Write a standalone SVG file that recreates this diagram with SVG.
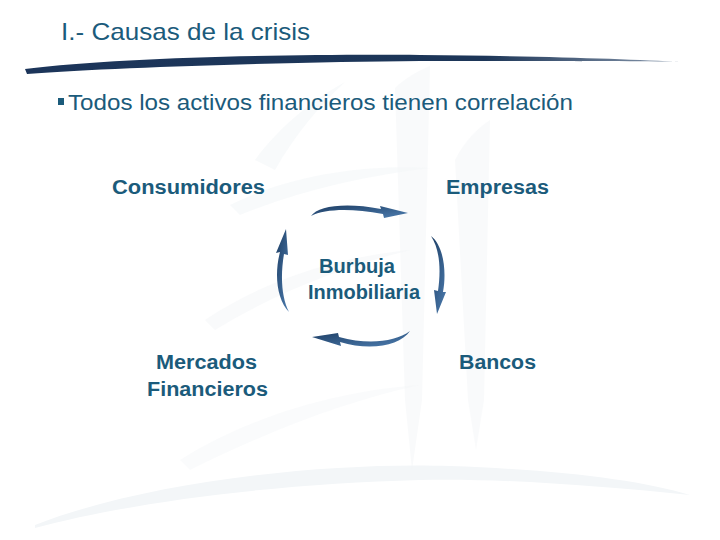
<svg xmlns="http://www.w3.org/2000/svg" width="720" height="540" viewBox="0 0 720 540">
<defs>
<linearGradient id="ag" x1="0" y1="0" x2="1" y2="1">
<stop offset="0" stop-color="#1d3d63"/>
<stop offset="1" stop-color="#4d7db0"/>
</linearGradient>
<linearGradient id="sw" x1="0" y1="0" x2="1" y2="0">
<stop offset="0" stop-color="#1c355a"/>
<stop offset="0.7" stop-color="#1d3658"/>
<stop offset="1" stop-color="#8a9aae"/>
</linearGradient>
<style>
.t{font-family:"Liberation Sans",Arial,sans-serif;fill:#1b5b7b}
.lb{font-family:"Liberation Sans",Arial,sans-serif;font-weight:bold;font-size:20px;fill:#1b5b7b}
.wm{fill:#f3f6f8}
.arr{fill:url(#ag)}
</style>
</defs>
<rect width="720" height="540" fill="#ffffff"/>
<g id="watermark">
<path class="wm" d="M35,525 C150,480 330,462 450,466 C560,470 640,480 690,495 C600,486 500,478 420,480 C280,484 140,500 35,528 Z"/>
<path class="wm" d="M255,160 C280,125 320,95 345,82 C320,105 295,135 275,170 Z" opacity="0.6"/>
<path class="wm" d="M395,88 C405,78 420,70 430,66 L422,400 L412,470 L405,400 Z" opacity="0.5"/>
<path class="wm" d="M455,160 C465,140 478,128 490,120 L484,400 L476,450 L468,400 Z" opacity="0.5"/>
<path class="wm" d="M230,205 C300,170 380,165 430,168 C370,175 300,190 240,215 Z" opacity="0.6"/>
<path class="wm" d="M205,320 C280,270 360,255 410,250 C350,265 280,290 215,330 Z" opacity="0.5"/>
<path class="wm" d="M180,460 C260,410 350,390 420,385 C350,400 270,430 190,470 Z" opacity="0.4"/>
</g>
<g id="title">
<text class="t" x="61" y="40" font-size="24" textLength="249" lengthAdjust="spacingAndGlyphs">I.- Causas de la crisis</text>
<path d="M25,69 C120,57 300,54 420,55 C540,56 630,59 682,62 C630,61 540,61 420,61 C300,62 120,67 27,74 Z" fill="url(#sw)"/>
</g>
<g id="bullet">
<rect x="58" y="98" width="6" height="7" fill="#1b5b7b"/>
<text class="t" x="68" y="110" font-size="22" textLength="505" lengthAdjust="spacingAndGlyphs">Todos los activos financieros tienen correlación</text>
</g>
<g id="consumidores"><text class="lb" x="112" y="194" textLength="153" lengthAdjust="spacingAndGlyphs">Consumidores</text></g>
<g id="empresas"><text class="lb" x="446" y="194" textLength="103" lengthAdjust="spacingAndGlyphs">Empresas</text></g>
<g id="mercados"><text class="lb" x="156" y="369" textLength="101" lengthAdjust="spacingAndGlyphs">Mercados</text><text class="lb" x="147" y="396" textLength="121" lengthAdjust="spacingAndGlyphs">Financieros</text></g>
<g id="bancos"><text class="lb" x="459" y="369" textLength="77" lengthAdjust="spacingAndGlyphs">Bancos</text></g>
<g id="burbuja"><text class="lb" x="319" y="273" font-size="19" textLength="76" lengthAdjust="spacingAndGlyphs">Burbuja</text><text class="lb" x="308" y="299" font-size="19" textLength="112" lengthAdjust="spacingAndGlyphs">Inmobiliaria</text></g>
<g id="connectors">
<path class="arr" d="M311,216 C318,206 345,202 381,209 L380,206 L408,213 L384,218 L383,214 C350,208 325,209 311,216 Z"/>
<path class="arr" d="M431,236 C443,245 447,270 443,292 L446,292 L437,314 L434,290 L438,291 C441,270 440,250 431,236 Z"/>
<path class="arr" d="M410,331 C400,346 370,351 340,342 L341,346 L312,337 L338,333 L339,337 C368,345 395,342 410,331 Z"/>
<path class="arr" d="M289,312 C277,300 274,275 280,252 L276,253 L286,229 L288,255 L284,254 C280,278 282,298 289,312 Z"/>
</g>
</svg>
